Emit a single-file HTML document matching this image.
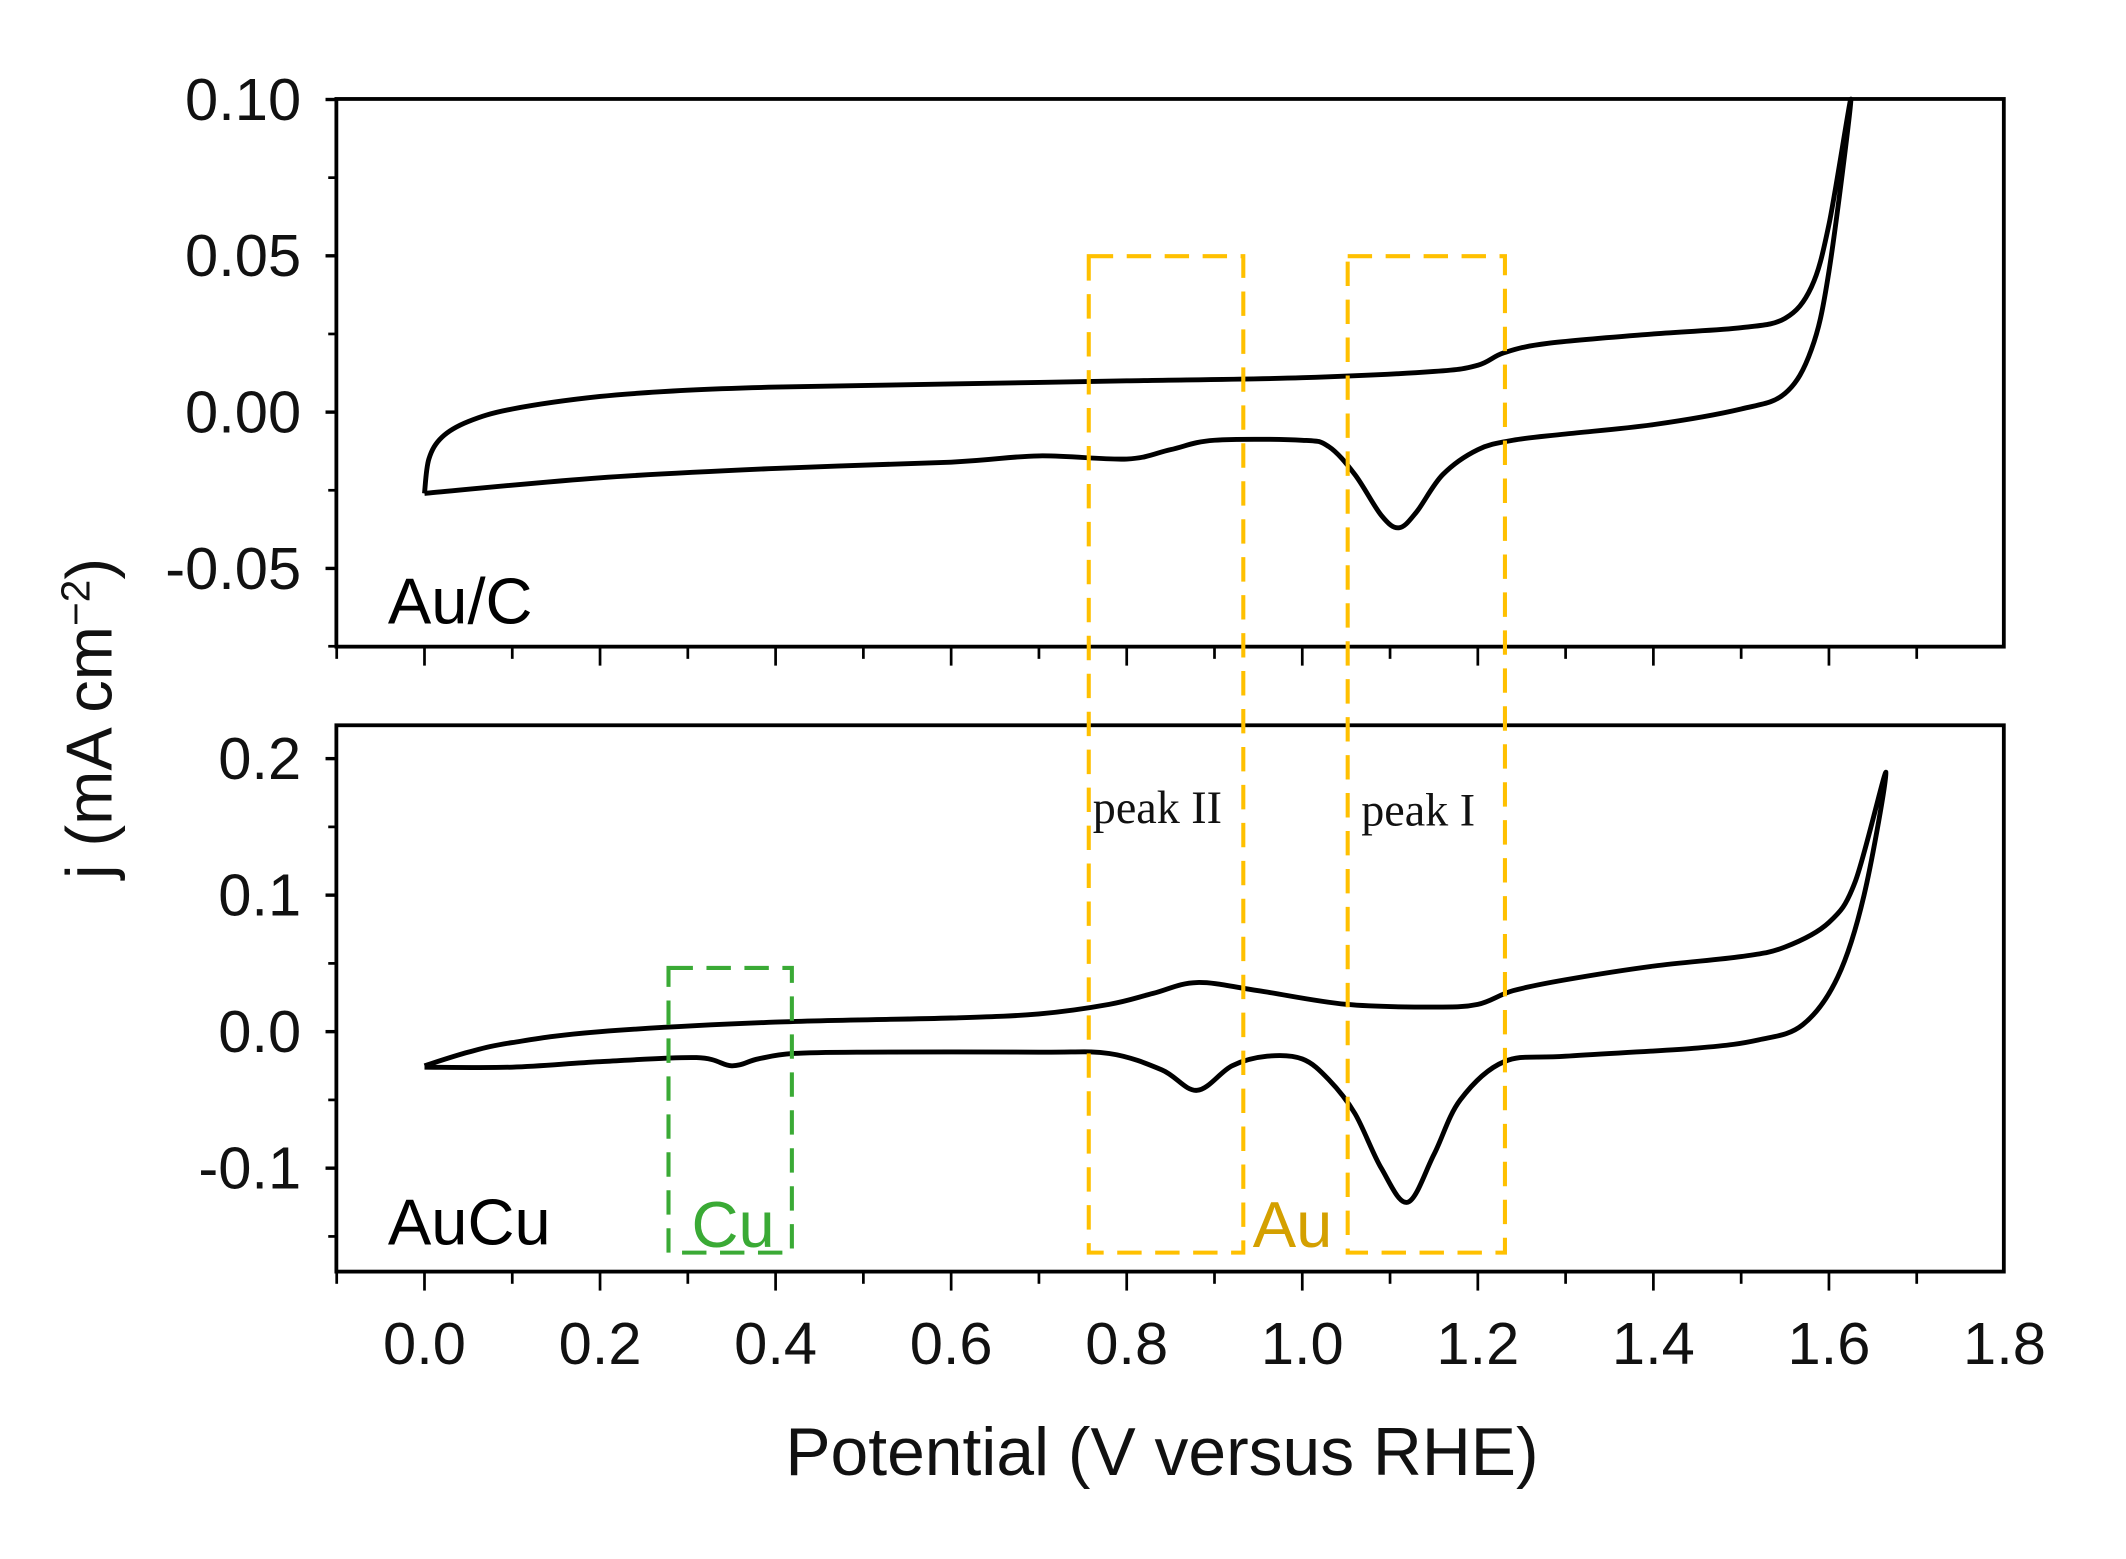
<!DOCTYPE html>
<html><head><meta charset="utf-8"><style>
html,body{margin:0;padding:0;background:#fff;}
svg{display:block;}
text{font-family:"Liberation Sans","DejaVu Sans",sans-serif;}
</style></head><body>
<svg id="chart" width="2126" height="1559" viewBox="0 0 1568 1150" xmlns="http://www.w3.org/2000/svg"></svg>
<script>
// ---- data ----
const xTicks = [0.0,0.2,0.4,0.6,0.8,1.0,1.2,1.4,1.6,1.8];
const topYTicks = [0.10,0.05,0.00,-0.05];
const topYLabels = ["0.10","0.05","0.00","-0.05"];
const botYTicks = [0.2,0.1,0.0,-0.1];
const botYLabels = ["0.2","0.1","0.0","-0.1"];
const aucX = [0.0,0.005,0.02,0.05,0.1,0.2,0.3,0.4,0.6,0.8,1.0,1.15,1.2,1.23,1.28,1.4,1.5,1.55,1.58,1.6,1.625,
              1.6,1.58,1.55,1.5,1.4,1.3,1.24,1.2,1.16,1.13,1.11,1.09,1.06,1.03,1.0,0.9,0.85,0.8,0.7,0.6,0.4,0.2,0.0];
const aucY = [-0.026,-0.015,-0.008,-0.003,0.001,0.005,0.007,0.008,0.009,0.010,0.011,0.013,0.015,0.019,0.022,0.025,0.027,0.030,0.040,0.060,0.100,
              0.045,0.020,0.006,0.001,-0.004,-0.007,-0.009,-0.012,-0.02,-0.032,-0.037,-0.033,-0.02,-0.011,-0.009,-0.009,-0.012,-0.015,-0.014,-0.016,-0.018,-0.021,-0.026];
const aucuX = [0.0,0.05,0.1,0.2,0.4,0.6,0.7,0.78,0.83,0.88,0.95,1.05,1.15,1.2,1.24,1.3,1.4,1.5,1.55,1.6,1.63,1.665,
               1.64,1.61,1.57,1.52,1.45,1.3,1.23,1.18,1.15,1.12,1.09,1.06,1.03,1.0,0.96,0.92,0.88,0.84,0.78,0.7,0.5,0.42,0.38,0.35,0.31,0.2,0.1,0.0];
const aucuY = [-0.025,-0.015,-0.008,0.000,0.007,0.010,0.013,0.020,0.028,0.036,0.030,0.020,0.018,0.020,0.030,0.038,0.048,0.055,0.062,0.080,0.110,0.190,
               0.100,0.040,0.005,-0.006,-0.012,-0.018,-0.022,-0.05,-0.09,-0.125,-0.10,-0.06,-0.035,-0.02,-0.018,-0.025,-0.043,-0.028,-0.016,-0.015,-0.015,-0.016,-0.020,-0.025,-0.019,-0.022,-0.026,-0.026];

const NS="http://www.w3.org/2000/svg";
const svg=document.getElementById('chart');
function el(tag,attrs,parent){const e=document.createElementNS(NS,tag);for(const k in attrs)e.setAttribute(k,attrs[k]);(parent||svg).appendChild(e);return e;}
const X0=248,X1=1478;
const xs=v=>313+(v/0.2)*129.5;
const tops=v=>304-(v/0.05)*115.3;
const bots=v=>761-(v/0.1)*100.7;

function smoothPath(xa,ya,sx,sy){
  const p=xa.map((x,i)=>[sx(x),sy(ya[i])]);
  let d="M"+p[0][0]+","+p[0][1];
  for(let i=0;i<p.length-1;i++){
    const p0=p[i-1]||p[i],p1=p[i],p2=p[i+1],p3=p[i+2]||p2;
    const c1=[p1[0]+(p2[0]-p0[0])/6,p1[1]+(p2[1]-p0[1])/6];
    const c2=[p2[0]-(p3[0]-p1[0])/6,p2[1]-(p3[1]-p1[1])/6];
    d+=` C${c1[0]},${c1[1]} ${c2[0]},${c2[1]} ${p2[0]},${p2[1]}`;
  }
  return d;
}

function panel(name,yT,yL,sy,top,bottom,minors){
  const g=el('g',{});
  
  
  const fr=el('rect',{x:X0,y:top,width:X1-X0,height:bottom-top,fill:'none',stroke:'#000','stroke-width':2.8},g);
  
  
  yT.forEach((v,i)=>{
    el('line',{x1:X0-8,x2:X0,y1:sy(v),y2:sy(v),stroke:'#000','stroke-width':2.5},g);
    const t=el('text',{x:X0-26,y:sy(v)+15,'text-anchor':'end','font-size':44,fill:'#111'},g);
    t.textContent=yL[i];
    
    
  });
  minors.forEach(v=>el('line',{x1:X0-6,x2:X0,y1:sy(v),y2:sy(v),stroke:'#000','stroke-width':2},g));
  for(let k=-1;k<=19;k++){
    const v=k*0.1, px=xs(v); if(px<X0||px>X1)continue;
    const major=k%2===0;
    el('line',{x1:px,x2:px,y1:bottom,y2:bottom+(major?14:9),stroke:'#000','stroke-width':2},g);
  }
  return g;
}
panel('top',topYTicks,topYLabels,tops,73,477,[0.075,0.025,-0.025,-0.075+0.0001]);
panel('bottom',botYTicks,botYLabels,bots,535,938,[0.15,0.05,-0.05,-0.15]);

xTicks.forEach(v=>{
  const t=el('text',{x:xs(v),y:1006,'text-anchor':'middle','font-size':44,fill:'#111'});
  t.textContent=v.toFixed(1);
  
  
});

const c1=el('path',{d:smoothPath(aucX,aucY,xs,tops),fill:'none',stroke:'#000','stroke-width':3.6,'stroke-linejoin':'round'});


const c2=el('path',{d:smoothPath(aucuX,aucuY,xs,bots),fill:'none',stroke:'#000','stroke-width':3.6,'stroke-linejoin':'round'});



function box(name,x0,x1,y0,y1,color){
  const r=el('rect',{x:x0,y:y0,width:x1-x0,height:y1-y0,fill:'none',stroke:color,'stroke-width':3,'stroke-dasharray':'18,10'});
  
  
}
box('peak-ii-box',803,917,189,924,'#FFC000');
box('peak-i-box',994,1110,189,924,'#FFC000');
box('cu-box',493,584,714,924,'#3aaa35');

function txt(name,s,x,y,size,color,fam,anchor){
  const t=el('text',{x:x,y:y,'font-size':size,fill:color,'text-anchor':anchor||'start'});
  if(fam)t.setAttribute('style','font-family:'+fam);
  t.textContent=s;
  
  
  return t;
}
txt('au-c-label','Au/C',286,460,48,'#000');
txt('aucu-label','AuCu',286,918,48,'#000');
txt('cu-label','Cu',510,920,48,'#3aaa35');
txt('au-label','Au',924,920,48,'#d4a000');
txt('peak-ii-label','peak  II',806,607,34,'#111','"Liberation Serif",serif');
txt('peak-i-label','peak  I',1004,609,34,'#111','"Liberation Serif",serif');
txt('x-axis-title','Potential (V versus RHE)',857,1088,50,'#111',null,'middle');
const yt=txt('y-axis-title','',0,0,48,'#111',null,'middle');
yt.setAttribute('transform','translate(82,530) rotate(-90)');
yt.innerHTML='j (mA cm<tspan dy="-16" font-size="30">−2</tspan><tspan dy="16">)</tspan>';
</script>
</body></html>
